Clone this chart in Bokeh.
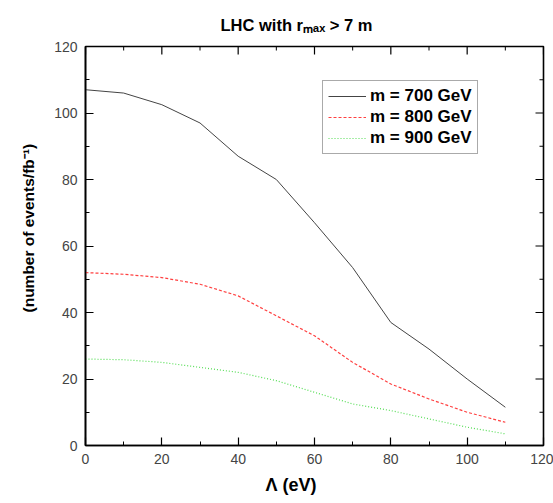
import numpy as np
from bokeh.plotting import figure
from bokeh.models import (Range1d, LinearAxis, SingleIntervalTicker, Legend, LegendItem, Title)
from bokeh.embed import file_html
from bokeh.resources import INLINE

lam = [0, 10, 20, 30, 40, 50, 60, 70, 80, 90, 100, 110]
m700 = [107, 106, 102.5, 97, 87, 80, 67, 53.5, 37, 29, 20, 11.5]
m800 = [52, 51.5, 50.5, 48.5, 45, 39, 33, 25, 18.5, 14, 10, 7]
m900 = [26, 25.8, 25, 23.5, 22, 19.5, 16, 12.5, 10.5, 8, 5.5, 3.5]
series_labels = ["m = 700 GeV", "m = 800 GeV", "m = 900 GeV"]
major_ticks = [0, 20, 40, 60, 80, 100, 120]
minor_ticks = [10, 30, 50, 70, 90, 110]
title_text = "LHC with r\u2098\u2090\u2093 > 7 m"
x_label = "\u039b (eV)"
y_label = "(number of events/fb\u207b\u00b9)"

FONT = "Liberation Sans"

p = figure(frame_width=458, frame_height=399, x_range=Range1d(0, 120), y_range=Range1d(0, 120),
           output_backend="svg", toolbar_location=None,
           min_border_left=85, min_border_top=46, min_border_right=10, min_border_bottom=58,
           x_axis_location=None, y_axis_location=None)
p.grid.visible = False
p.outline_line_color = "black"
p.outline_line_width = 1.6
p.background_fill_color = "white"
p.border_fill_color = "white"

def make_axis():
    ax = LinearAxis(ticker=SingleIntervalTicker(interval=20, num_minor_ticks=2))
    ax.axis_line_color = "black"
    ax.axis_line_width = 1.6
    ax.major_tick_in = 8
    ax.major_tick_out = 0
    ax.minor_tick_in = 4
    ax.minor_tick_out = 0
    ax.major_tick_line_color = "black"
    ax.major_tick_line_width = 1.2
    ax.minor_tick_line_color = "black"
    ax.minor_tick_line_width = 1.0
    ax.major_label_text_font = FONT
    ax.major_label_text_font_size = "14px"
    ax.major_label_text_color = "#444444"
    ax.major_label_standoff = 8
    return ax

p.add_layout(make_axis(), "below")
p.add_layout(make_axis(), "left")

# mirrored inward ticks on top and right (outer halves are clipped by the frame)
p.scatter(major_ticks, [120] * len(major_ticks), marker="dash", angle=np.pi / 2, size=16,
          line_color="black", line_width=1.2)
p.scatter(minor_ticks, [120] * len(minor_ticks), marker="dash", angle=np.pi / 2, size=8,
          line_color="black", line_width=1.0)
p.scatter([120] * len(major_ticks), major_ticks, marker="dash", size=16,
          line_color="black", line_width=1.2)
p.scatter([120] * len(minor_ticks), minor_ticks, marker="dash", size=8,
          line_color="black", line_width=1.0)

r1 = p.line(lam, m700, line_color="#444444", line_width=1)
r2 = p.line(lam, m800, line_color="#ff4040", line_width=1.2, line_dash="3 2")
r3 = p.line(lam, m900, line_color="#55dd55", line_width=1.2, line_dash="1 2")

legend = Legend(items=[LegendItem(label=series_labels[0], renderers=[r1]),
                       LegendItem(label=series_labels[1], renderers=[r2]),
                       LegendItem(label=series_labels[2], renderers=[r3])],
                location=(237, 291), orientation="vertical")
legend.label_text_font = FONT
legend.label_text_font_style = "bold"
legend.label_text_font_size = "17px"
legend.label_text_color = "black"
legend.glyph_width = 38
legend.label_standoff = 4
legend.label_height = 20
legend.glyph_height = 20
legend.spacing = 1
legend.padding = 5
legend.margin = 0
legend.border_line_color = "#555555"
legend.border_line_width = 1
legend.background_fill_color = "white"
legend.background_fill_alpha = 1
p.add_layout(legend, "center")

p.title.text = title_text
p.title.align = "left"
p.title.offset = 135
p.title.text_font = FONT
p.title.text_font_style = "bold"
p.title.text_font_size = "16.5px"
p.title.text_color = "black"
p.title.standoff = 25

p.add_layout(Title(text=y_label, align="left", offset=133, text_font=FONT, text_font_style="bold",
                   text_font_size="15.5px", text_color="black", standoff=29), "left")
p.add_layout(Title(text=x_label, align="left", offset=180, text_font=FONT, text_font_style="bold",
                   text_font_size="18px", text_color="black", standoff=12), "below")

open("out.html", "w").write(file_html(p, INLINE))
